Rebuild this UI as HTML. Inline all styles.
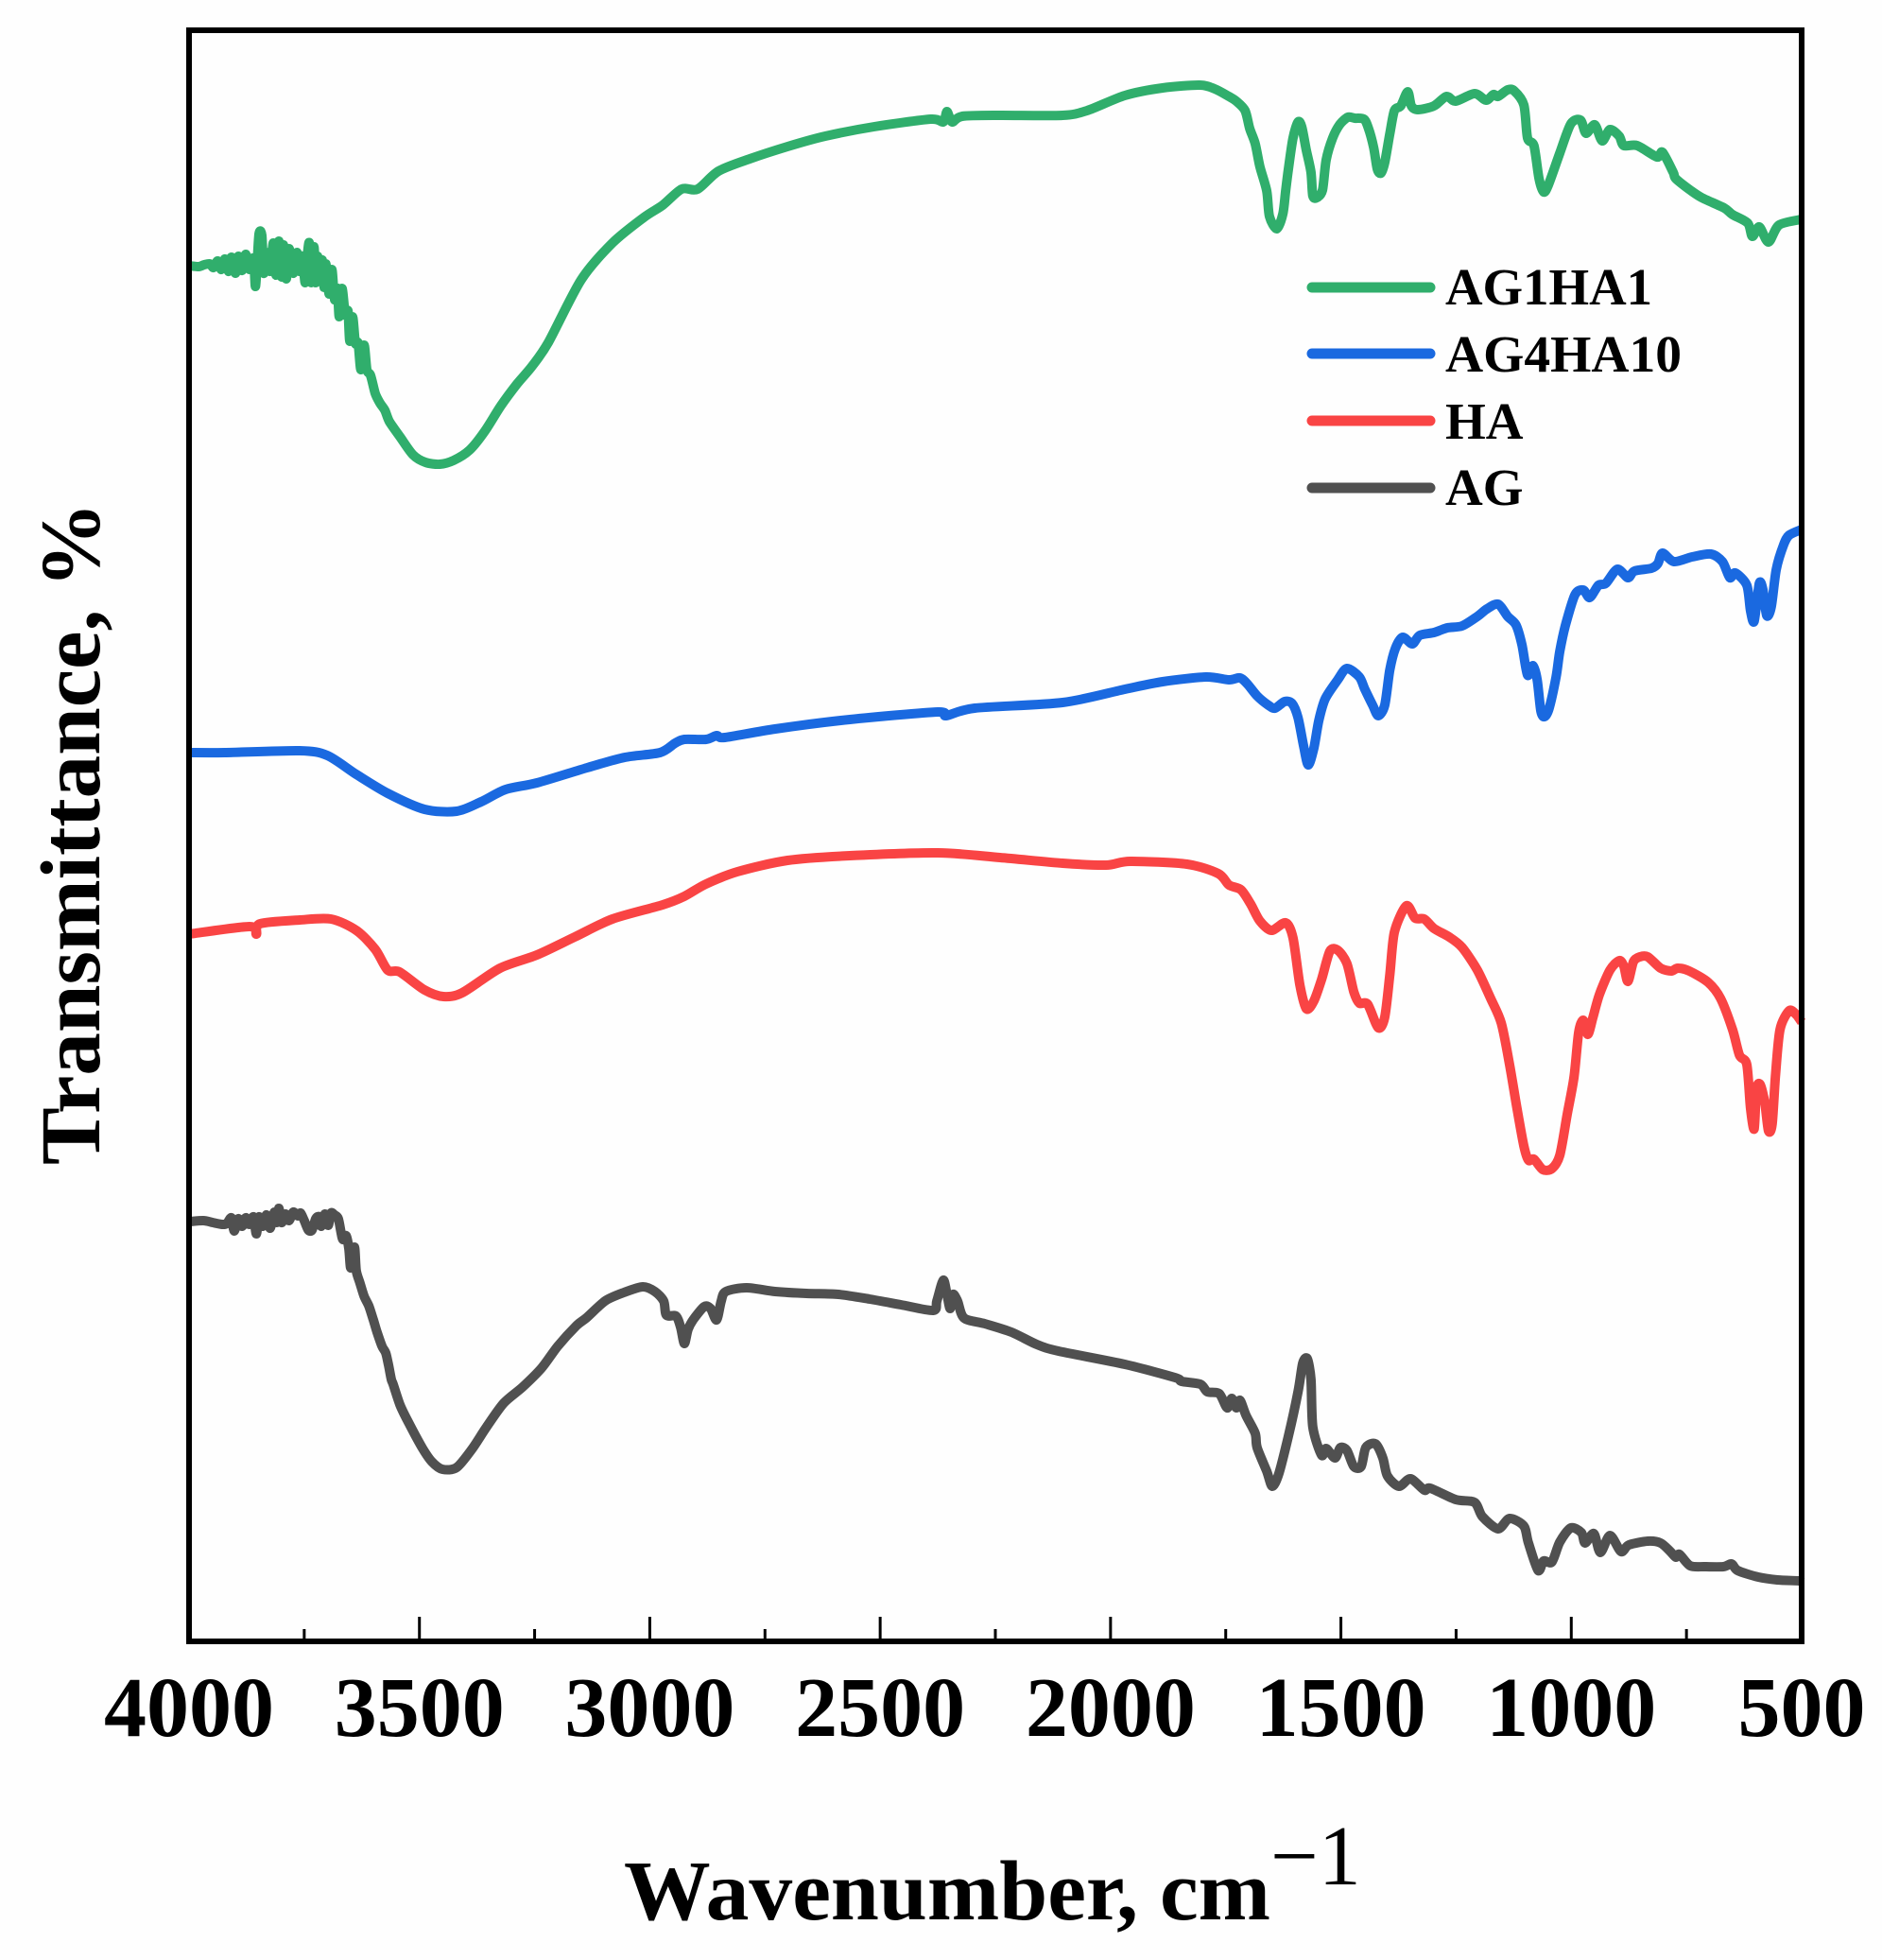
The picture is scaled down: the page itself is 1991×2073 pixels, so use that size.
<!DOCTYPE html>
<html lang="en">
<head>
<meta charset="utf-8">
<title>FTIR spectra</title>
<style>
html,body{margin:0;padding:0;background:#fff;width:1991px;height:2073px;overflow:hidden}
svg{display:block}
text{font-family:"Liberation Serif",serif;fill:#000}
</style>
</head>
<body>
<svg id="chart" xmlns="http://www.w3.org/2000/svg" width="1991" height="2073" viewBox="0 0 1991 2073">
  <rect x="0" y="0" width="1991" height="2073" fill="#fefefe"/>
  <g id="series"></g>
  <rect x="200" y="32" width="1706" height="1704" fill="none" stroke="#000" stroke-width="6"/>
  <g id="ticks"></g>
  <text transform="translate(105 1232) rotate(-90)" font-size="90" font-weight="700" textLength="701" lengthAdjust="spacingAndGlyphs">Transmittance, %</text>
  <text x="660" y="2030" font-size="90" font-weight="700" textLength="684" lengthAdjust="spacingAndGlyphs">Wavenumber, cm</text>
  <text x="1344" y="1993" font-size="90">−1</text>
  <g>
    <line x1="1388" y1="304" x2="1513" y2="304" stroke="#30AE6C" stroke-width="11" stroke-linecap="round"/>
    <text x="1529" y="322" font-size="55" font-weight="700" textLength="219" lengthAdjust="spacingAndGlyphs">AG1HA1</text>
    <line x1="1388" y1="374" x2="1513" y2="374" stroke="#1A69E0" stroke-width="11" stroke-linecap="round"/>
    <text x="1529" y="393" font-size="55" font-weight="700" textLength="250" lengthAdjust="spacingAndGlyphs">AG4HA10</text>
    <line x1="1388" y1="445" x2="1513" y2="445" stroke="#F94444" stroke-width="11" stroke-linecap="round"/>
    <text x="1529" y="464" font-size="55" font-weight="700">HA</text>
    <line x1="1388" y1="516" x2="1513" y2="516" stroke="#505050" stroke-width="11" stroke-linecap="round"/>
    <text x="1529" y="534" font-size="55" font-weight="700">AG</text>
  </g>
</svg>
<script>
const majorTicks = [4000, 3500, 3000, 2500, 2000, 1500, 1000, 500];
const minorTicks = [3750, 3250, 2750, 2250, 1750, 1250, 750];

const wnAG1HA1 = [4000,3979,3967,3955,3947,3938,3930,3922,3914,3908,3899,3893,3885,3877,3869,3860,3856,3852,3848,3842,3838,3832,3824,3817,3811,3805,3799,3795,3789,3783,3774,3766,3760,3754,3748,3744,3739,3735,3729,3725,3721,3717,3711,3707,3703,3696,3690,3684,3678,3674,3668,3661,3655,3651,3645,3639,3633,3627,3620,3614,3606,3596,3586,3575,3565,3542,3514,3487,3456,3426,3391,3358,3323,3288,3255,3220,3149,3081,3013,2972,2931,2896,2851,2783,2701,2619,2513,2390,2363,2355,2344,2322,2240,2104,2051,1969,1887,1807,1774,1743,1727,1708,1698,1686,1676,1661,1655,1639,1626,1620,1614,1604,1593,1585,1575,1565,1561,1552,1540,1532,1518,1503,1485,1470,1450,1440,1429,1421,1413,1405,1394,1384,1370,1355,1347,1333,1298,1271,1251,1210,1185,1169,1159,1138,1124,1103,1095,1081,1070,1060,1050,1025,1001,980,968,949,933,916,896,886,857,814,802,779,773,742,717,668,650,617,607,592,572,549,500];
const tAG1HA1 = [1455,1454,1456,1457,1453,1460,1451,1462,1449,1464,1447,1465,1450,1467,1451,1463,1433,1459,1489,1487,1447,1469,1449,1479,1445,1481,1443,1477,1441,1473,1447,1469,1449,1465,1437,1462,1479,1437,1475,1437,1465,1441,1461,1432,1457,1425,1451,1419,1431,1401,1431,1403,1407,1375,1401,1373,1373,1345,1371,1345,1339,1320,1310,1302,1290,1274,1255,1247,1245,1249,1260,1280,1307,1330,1349,1374,1440,1479,1506,1519,1536,1536,1555,1568,1581,1592,1602,1610,1607,1618,1607,1613,1614,1614,1619,1635,1643,1646,1642,1634,1629,1619,1600,1584,1560,1534,1507,1494,1510,1534,1557,1590,1607,1602,1577,1554,1529,1527,1535,1567,1590,1604,1612,1611,1610,1600,1580,1557,1553,1564,1594,1619,1624,1639,1624,1620,1624,1634,1629,1637,1630,1636,1634,1641,1640,1625,1590,1582,1547,1533,1540,1574,1605,1609,1595,1604,1587,1599,1592,1582,1582,1570,1575,1554,1547,1535,1527,1516,1509,1500,1486,1496,1480,1498,1504];

const wnAG4HA10 = [4000,3922,3760,3700,3637,3569,3489,3419,3366,3313,3245,3136,3054,2978,2945,2925,2878,2855,2837,2728,2566,2375,2357,2295,2104,1969,1887,1793,1743,1719,1702,1682,1657,1643,1622,1606,1593,1581,1571,1559,1548,1534,1507,1487,1460,1448,1431,1419,1405,1394,1382,1366,1345,1329,1298,1269,1237,1204,1183,1159,1138,1120,1107,1095,1083,1074,1066,1058,1048,1033,1025,1013,992,974,960,941,925,900,877,863,826,812,802,777,738,697,672,656,644,619,611,603,592,584,576,566,555,539,527,500];
const tAG4HA10 = [940,940,942,937,917,897,880,878,888,901,908,924,935,940,950,954,954,958,956,965,975,983,979,987,993,1007,1015,1020,1017,1019,1012,1000,990,987,994,992,977,947,927,944,974,997,1017,1029,1020,1007,990,979,990,1027,1050,1062,1055,1064,1067,1072,1074,1084,1092,1097,1084,1075,1054,1022,1032,1017,984,978,987,1020,1047,1074,1107,1112,1104,1117,1119,1134,1125,1132,1135,1140,1151,1142,1147,1150,1142,1125,1130,1117,1090,1079,1119,1112,1085,1094,1134,1160,1170,1176];

const wnHA = [4000,3869,3854,3846,3760,3692,3637,3596,3569,3543,3489,3448,3407,3325,3245,3163,3081,2972,2925,2878,2810,2701,2566,2375,2240,2104,2010,1957,1834,1766,1743,1717,1696,1676,1651,1620,1604,1589,1575,1559,1542,1524,1507,1487,1472,1460,1442,1419,1405,1394,1384,1358,1339,1319,1298,1265,1237,1204,1175,1152,1134,1118,1103,1093,1081,1062,1042,1025,1009,994,984,974,964,953,939,916,896,886,877,865,851,834,806,783,769,744,703,676,650,635,619,611,603,598,590,580,572,564,557,547,527,512,500];
const tHA = [748,756,748,759,763,764,752,732,710,708,689,682,686,712,726,745,764,779,788,801,814,826,831,834,829,823,821,825,822,812,800,795,780,762,752,760,744,694,669,677,700,730,731,717,687,675,674,649,660,704,750,778,765,764,754,745,734,710,680,654,610,564,524,509,510,499,500,514,557,597,644,657,642,660,684,710,720,714,698,719,724,724,712,709,712,709,697,680,647,620,610,564,542,584,589,570,540,547,597,647,667,663,655];

const wnAG = [4000,3969,3949,3928,3918,3908,3902,3893,3885,3877,3869,3860,3854,3848,3840,3832,3824,3815,3809,3805,3799,3791,3783,3774,3764,3758,3750,3741,3733,3725,3717,3713,3705,3698,3692,3684,3676,3670,3666,3659,3653,3649,3641,3637,3629,3620,3610,3600,3592,3581,3573,3567,3561,3557,3542,3522,3493,3473,3450,3419,3385,3354,3317,3276,3235,3200,3159,3138,3097,3056,3015,2989,2970,2964,2943,2933,2925,2917,2906,2882,2868,2855,2845,2835,2790,2728,2660,2591,2523,2455,2385,2377,2363,2355,2348,2342,2332,2318,2273,2215,2160,2113,1969,1860,1846,1805,1790,1764,1747,1737,1727,1719,1706,1686,1682,1661,1649,1635,1614,1593,1583,1573,1565,1561,1542,1532,1513,1501,1487,1472,1456,1446,1425,1409,1399,1374,1349,1319,1306,1251,1210,1193,1159,1134,1103,1093,1072,1060,1042,1025,1001,978,970,951,937,916,892,875,834,806,785,773,765,742,711,670,652,639,594,553,506,500];
const tAG = [444,445,443,441,442,448,434,447,439,448,441,449,431,449,439,451,437,454,443,458,443,452,445,454,450,453,445,435,435,447,449,439,452,440,453,451,447,432,425,429,415,395,417,392,379,365,355,340,327,312,305,292,277,272,250,230,204,190,182,184,204,227,252,269,289,312,334,342,360,369,375,370,360,345,344,332,315,330,340,354,352,340,360,370,374,370,368,367,362,356,350,360,382,367,352,367,360,342,336,327,314,307,293,279,275,272,264,262,247,257,247,255,239,220,205,180,164,177,217,264,294,299,277,227,197,204,194,205,202,185,185,205,209,194,175,164,172,160,162,150,147,132,119,130,122,104,75,85,84,105,120,115,104,114,94,112,95,102,106,104,95,89,92,80,79,79,82,75,68,65,64,63];

const SVG_NS = 'http://www.w3.org/2000/svg';
const xAxis = { domainLeft: 4000, domainRight: 500, rangeLeft: 200, rangeRight: 1906 };
const yAxis = { domainBottom: 0, domainTop: 1704, rangeBottom: 1736, rangeTop: 32 };

function xScale(wn) {
  return xAxis.rangeLeft + (wn - xAxis.domainLeft) / (xAxis.domainRight - xAxis.domainLeft) * (xAxis.rangeRight - xAxis.rangeLeft);
}
function yScale(t) {
  return yAxis.rangeBottom + (t - yAxis.domainBottom) / (yAxis.domainTop - yAxis.domainBottom) * (yAxis.rangeTop - yAxis.rangeBottom);
}
function pathFrom(xs, ys) {
  const px = xs.map(xScale);
  const py = ys.map(yScale);
  const k = 0.14;
  let d = 'M' + px[0].toFixed(1) + ' ' + py[0].toFixed(1);
  for (let i = 0; i < px.length - 1; i++) {
    const a = Math.max(i - 1, 0);
    const b = Math.min(i + 2, px.length - 1);
    const c1x = px[i] + (px[i + 1] - px[a]) * k;
    const c1y = py[i] + (py[i + 1] - py[a]) * k;
    const c2x = px[i + 1] - (px[b] - px[i]) * k;
    const c2y = py[i + 1] - (py[b] - py[i]) * k;
    d += 'C' + c1x.toFixed(1) + ' ' + c1y.toFixed(1) + ' ' + c2x.toFixed(1) + ' ' + c2y.toFixed(1) + ' ' + px[i + 1].toFixed(1) + ' ' + py[i + 1].toFixed(1);
  }
  return d;
}

const seriesGroup = document.getElementById('series');

const curveAG = document.createElementNS(SVG_NS, 'path');


curveAG.setAttribute('d', pathFrom(wnAG, tAG));
curveAG.setAttribute('stroke', '#505050');
seriesGroup.appendChild(curveAG);

const curveHA = document.createElementNS(SVG_NS, 'path');


curveHA.setAttribute('d', pathFrom(wnHA, tHA));
curveHA.setAttribute('stroke', '#F94444');
seriesGroup.appendChild(curveHA);

const curveAG4HA10 = document.createElementNS(SVG_NS, 'path');


curveAG4HA10.setAttribute('d', pathFrom(wnAG4HA10, tAG4HA10));
curveAG4HA10.setAttribute('stroke', '#1A69E0');
seriesGroup.appendChild(curveAG4HA10);

const curveAG1HA1 = document.createElementNS(SVG_NS, 'path');


curveAG1HA1.setAttribute('d', pathFrom(wnAG1HA1, tAG1HA1));
curveAG1HA1.setAttribute('stroke', '#30AE6C');
seriesGroup.appendChild(curveAG1HA1);

seriesGroup.setAttribute('fill', 'none');
seriesGroup.setAttribute('stroke-width', '10');
seriesGroup.setAttribute('stroke-linejoin', 'round');

const tickGroup = document.getElementById('ticks');

majorTicks.forEach(function (wn) {
  const tick = document.createElementNS(SVG_NS, 'line');
  
  
  tick.setAttribute('x1', xScale(wn));
  tick.setAttribute('x2', xScale(wn));
  tick.setAttribute('y1', 1736);
  tick.setAttribute('y2', 1710);
  tick.setAttribute('stroke', '#000');
  tick.setAttribute('stroke-width', 3);
  tickGroup.appendChild(tick);

  const label = document.createElementNS(SVG_NS, 'text');
  
  
  label.setAttribute('x', xScale(wn));
  label.setAttribute('y', 1836);
  label.setAttribute('text-anchor', 'middle');
  label.setAttribute('font-size', 90);
  label.setAttribute('font-weight', 700);
  label.textContent = wn;
  tickGroup.appendChild(label);
});

minorTicks.forEach(function (wn) {
  const tick = document.createElementNS(SVG_NS, 'line');
  
  
  tick.setAttribute('x1', xScale(wn));
  tick.setAttribute('x2', xScale(wn));
  tick.setAttribute('y1', 1736);
  tick.setAttribute('y2', 1723);
  tick.setAttribute('stroke', '#000');
  tick.setAttribute('stroke-width', 3);
  tickGroup.appendChild(tick);
});
</script>
</body>
</html>
